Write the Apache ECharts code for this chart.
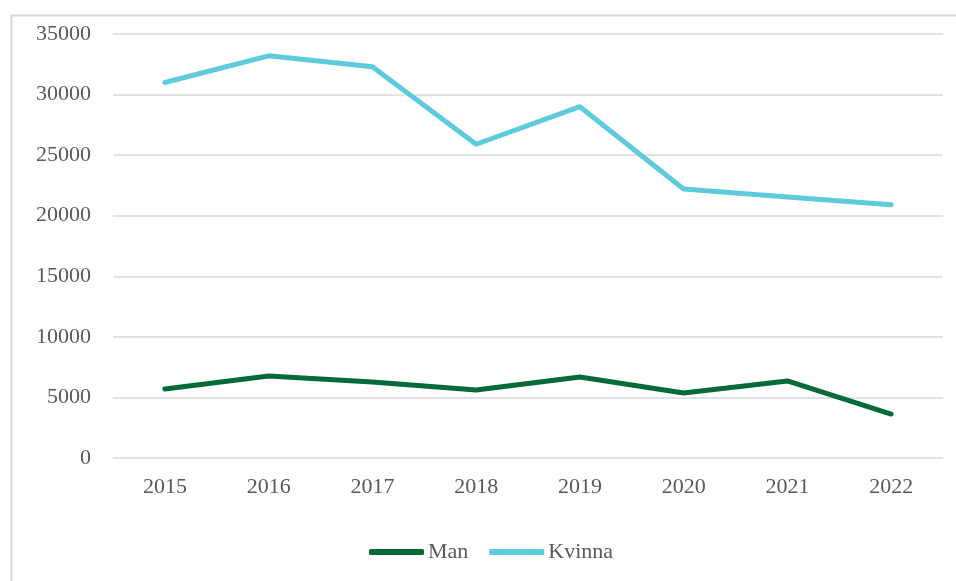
<!DOCTYPE html>
<html>
<head>
<meta charset="utf-8">
<script src="https://cdn.jsdelivr.net/npm/echarts@6/dist/echarts.min.js"></script>
<style>
  html, body { margin: 0; padding: 0; background: #fff; }
  #chart { width: 956px; height: 581px; }
</style>
</head>
<body>
<div id="chart"></div>
<script>
const years = ['2015', '2016', '2017', '2018', '2019', '2020', '2021', '2022'];
const manValues = [5700, 6770, 6270, 5610, 6690, 5370, 6360, 3630];
const kvinnaValues = [31000, 33200, 32300, 25900, 29000, 22200, 21550, 20900];

const chart = echarts.init(document.getElementById('chart'));
const labelFont = '"Liberation Serif", "DejaVu Serif", serif';

chart.setOption({
    animation: false,
    // light frame around the whole chart area (clipped at right/bottom)
    graphic: [{
        type: 'rect',
        left: 9, top: 13,
        shape: { width: 1000, height: 700 },
        style: { fill: 'none', stroke: '#d9d9d9', lineWidth: 2 },
        silent: true
    }],
    grid: { left: 113, right: 13, top: 34, bottom: 123 },
    xAxis: {
        type: 'category',
        data: years,
        boundaryGap: true,
        axisLine: { show: false },
        axisTick: { show: false },
        axisLabel: { color: '#595959', fontFamily: labelFont, fontSize: 22, margin: 18 }
    },
    yAxis: {
        type: 'value',
        min: 0, max: 35000, interval: 5000,
        axisLine: { show: false },
        axisTick: { show: false },
        axisLabel: {
            color: '#595959', fontFamily: labelFont, fontSize: 22, margin: 22,
            formatter: v => String(v)
        },
        splitLine: { lineStyle: { color: '#d9d9d9', width: 1.5 } }
    },
    legend: {
        bottom: 18,
        left: 369,
        padding: 0,
        icon: 'roundRect',
        itemWidth: 55,
        itemHeight: 6,
        itemGap: 21,
        textStyle: { color: '#595959', fontFamily: labelFont, fontSize: 22, padding: [0, 0, 0, -1] },
        data: ['Man', 'Kvinna']
    },
    series: [
        {
            name: 'Man',
            type: 'line',
            data: manValues,
            symbol: 'none',
            lineStyle: { color: '#046a38', width: 5, cap: 'round' },
            itemStyle: { color: '#046a38' }
        },
        {
            name: 'Kvinna',
            type: 'line',
            data: kvinnaValues,
            symbol: 'none',
            lineStyle: { color: '#5ecbdd', width: 5, cap: 'round' },
            itemStyle: { color: '#5ecbdd' }
        }
    ]
});
</script>
</body>
</html>
